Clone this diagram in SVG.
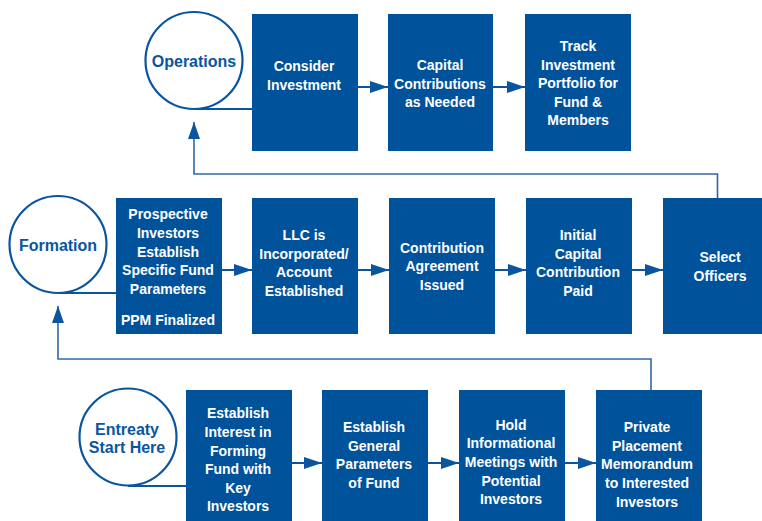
<svg xmlns="http://www.w3.org/2000/svg" width="762" height="521" viewBox="0 0 762 521">
<defs>
<style>
.box{fill:#00529b}
.circ{fill:#fff;stroke:#0a55a0;stroke-width:2.2}
.bt{font-family:"Liberation Sans",Arial,sans-serif;font-weight:bold;font-size:14px;fill:#fff;text-anchor:middle}
.ct{font-family:"Liberation Sans",Arial,sans-serif;font-weight:bold;font-size:16px;fill:#0a55a0;text-anchor:middle}
.arr{stroke:#0a55a0;stroke-width:2;fill:none}
.loop{stroke:#2f68aa;stroke-width:1.6;fill:none}
.ul{stroke:#0a55a0;stroke-width:2.2;fill:none}
</style>
<marker id="ah" markerUnits="userSpaceOnUse" markerWidth="18" markerHeight="12" refX="18" refY="6" orient="auto"><path d="M0,0 L18,6 L0,12 z" fill="#0a55a0"/></marker>
<marker id="ah2" markerUnits="userSpaceOnUse" markerWidth="17" markerHeight="12" refX="17" refY="6" orient="auto"><path d="M0,0 L17,6 L0,12 z" fill="#0a55a0"/></marker>
</defs>
<rect width="762" height="521" fill="#fff"/>

<g id="connectors">
<line class="arr" x1="358" y1="87" x2="388" y2="87" marker-end="url(#ah)"/>
<line class="arr" x1="493" y1="87" x2="525" y2="87" marker-end="url(#ah)"/>
<line class="arr" x1="222" y1="270" x2="252" y2="270" marker-end="url(#ah)"/>
<line class="arr" x1="358" y1="270" x2="389" y2="270" marker-end="url(#ah)"/>
<line class="arr" x1="495" y1="270" x2="526" y2="270" marker-end="url(#ah)"/>
<line class="arr" x1="632" y1="270" x2="663" y2="270" marker-end="url(#ah)"/>
<line class="arr" x1="292" y1="463" x2="322" y2="463" marker-end="url(#ah)"/>
<line class="arr" x1="428" y1="463" x2="459" y2="463" marker-end="url(#ah)"/>
<line class="arr" x1="565" y1="463" x2="596" y2="463" marker-end="url(#ah)"/>
<path class="loop" d="M717.5,198 V174 H194 V122" marker-end="url(#ah2)"/>
<path class="loop" d="M651,390 V359 H58 V306" marker-end="url(#ah2)"/>
<line class="ul" x1="194" y1="109" x2="252" y2="109"/>
<line class="ul" x1="58" y1="293" x2="116" y2="293"/>
<line class="ul" x1="128" y1="486" x2="186" y2="486"/>
</g>

<g id="operations"><circle class="circ" cx="194" cy="60.5" r="48.5"/><text class="ct" x="194" y="67">Operations</text></g>
<g id="consider"><rect class="box" x="252" y="14" width="106" height="137"/><text class="bt" x="304" y="71">Consider</text><text class="bt" x="304" y="89.5">Investment</text></g>
<g id="capital"><rect class="box" x="388" y="14" width="105" height="137"/><text class="bt" x="440" y="70">Capital</text><text class="bt" x="440" y="88.5">Contributions</text><text class="bt" x="440" y="107">as Needed</text></g>
<g id="track"><rect class="box" x="525" y="14" width="106" height="137"/><text class="bt" x="578" y="51">Track</text><text class="bt" x="578" y="69.5">Investment</text><text class="bt" x="578" y="88">Portfolio for</text><text class="bt" x="578" y="106.5">Fund &amp;</text><text class="bt" x="578" y="125">Members</text></g>

<g id="formation"><circle class="circ" cx="58" cy="244.5" r="48.5"/><text class="ct" x="58" y="251">Formation</text></g>
<g id="prospective"><rect class="box" x="116" y="198" width="106" height="136"/><text class="bt" x="168" y="219">Prospective</text><text class="bt" x="168" y="238">Investors</text><text class="bt" x="168" y="256.5">Establish</text><text class="bt" x="168" y="275">Specific Fund</text><text class="bt" x="168" y="293.5">Parameters</text><text class="bt" x="168" y="325">PPM Finalized</text></g>
<g id="llc"><rect class="box" x="252" y="198" width="106" height="136"/><text class="bt" x="304" y="240">LLC is</text><text class="bt" x="304" y="258.5">Incorporated/</text><text class="bt" x="304" y="277">Account</text><text class="bt" x="304" y="295.5">Established</text></g>
<g id="agreement"><rect class="box" x="389" y="198" width="106" height="136"/><text class="bt" x="442" y="252.5">Contribution</text><text class="bt" x="442" y="271">Agreement</text><text class="bt" x="442" y="289.5">Issued</text></g>
<g id="initial"><rect class="box" x="526" y="198" width="106" height="136"/><text class="bt" x="578" y="240">Initial</text><text class="bt" x="578" y="258.5">Capital</text><text class="bt" x="578" y="277">Contribution</text><text class="bt" x="578" y="295.5">Paid</text></g>
<g id="officers"><rect class="box" x="663" y="198" width="114" height="136"/><text class="bt" x="720" y="262">Select</text><text class="bt" x="720" y="280.5">Officers</text></g>

<g id="entreaty"><circle class="circ" cx="128" cy="437" r="48.5"/><text class="ct" x="127" y="435">Entreaty</text><text class="ct" x="127" y="453">Start Here</text></g>
<g id="interest"><rect class="box" x="186" y="390" width="106" height="131"/><text class="bt" x="238" y="418">Establish</text><text class="bt" x="238" y="437">Interest in</text><text class="bt" x="238" y="455.5">Forming</text><text class="bt" x="238" y="474">Fund with</text><text class="bt" x="238" y="492.5">Key</text><text class="bt" x="238" y="511">Investors</text></g>
<g id="general"><rect class="box" x="322" y="390" width="106" height="131"/><text class="bt" x="374" y="432">Establish</text><text class="bt" x="374" y="450.5">General</text><text class="bt" x="374" y="469">Parameters</text><text class="bt" x="374" y="487.5">of Fund</text></g>
<g id="meetings"><rect class="box" x="459" y="390" width="106" height="131"/><text class="bt" x="511" y="430">Hold</text><text class="bt" x="511" y="448">Informational</text><text class="bt" x="511" y="466.5">Meetings with</text><text class="bt" x="511" y="485.5">Potential</text><text class="bt" x="511" y="504">Investors</text></g>
<g id="ppm"><rect class="box" x="596" y="390" width="106" height="131"/><text class="bt" x="647" y="432">Private</text><text class="bt" x="647" y="451">Placement</text><text class="bt" x="647" y="469">Memorandum</text><text class="bt" x="647" y="487.5">to Interested</text><text class="bt" x="647" y="506.5">Investors</text></g>
</svg>
